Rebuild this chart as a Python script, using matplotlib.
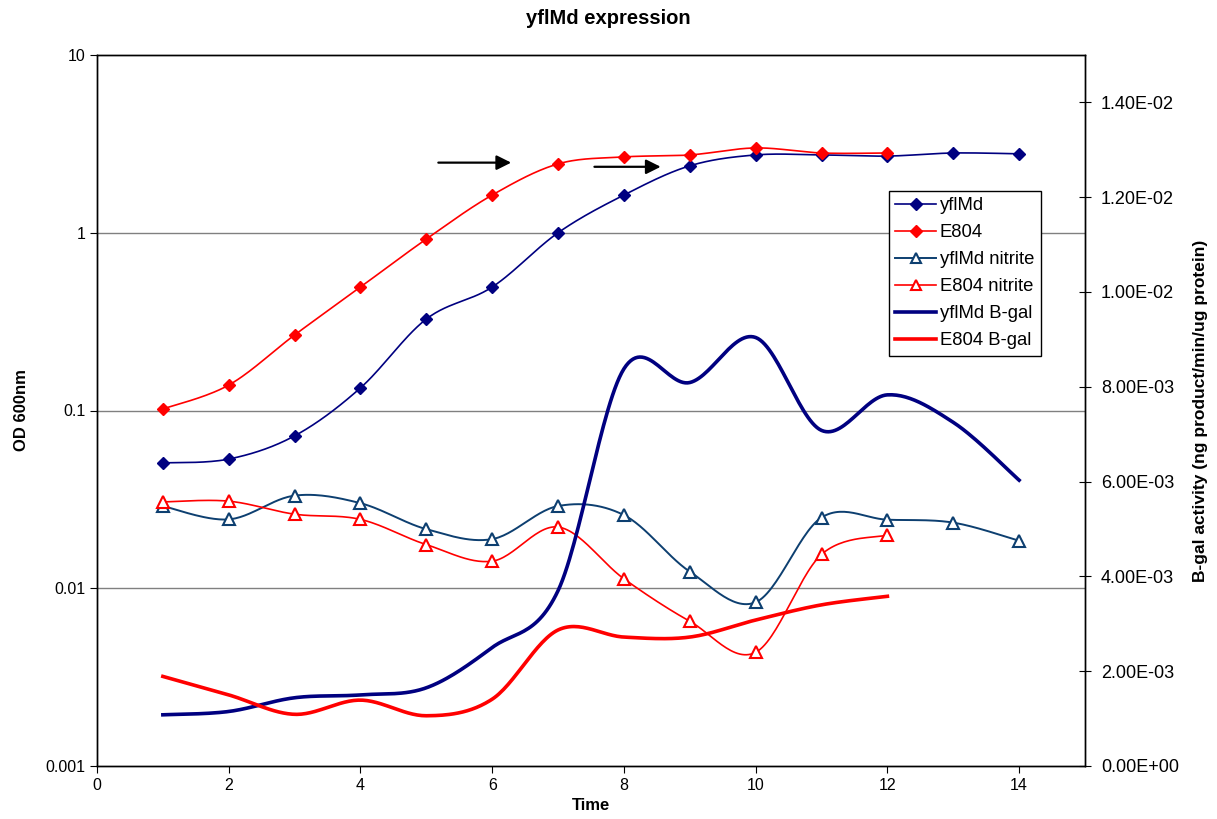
import numpy as np
import matplotlib
matplotlib.use("Agg")
import matplotlib.pyplot as plt
from matplotlib.lines import Line2D

plt.rcParams['font.family'] = ['Liberation Sans', 'DejaVu Sans']

time = [1, 2, 3, 4, 5, 6, 7, 8, 9, 10, 11, 12, 13, 14]
time_e804 = [1, 2, 3, 4, 5, 6, 7, 8, 9, 10, 11, 12]

# OD 600nm (left, log axis)
yflmd_od = [0.0507, 0.0533, 0.072, 0.134, 0.327, 0.495, 1.0, 1.63, 2.38, 2.74, 2.74, 2.70, 2.81, 2.78]
e804_od = [0.102, 0.139, 0.266, 0.495, 0.922, 1.63, 2.44, 2.67, 2.74, 3.0, 2.81, 2.81]
yflmd_nitrite = [0.029, 0.0244, 0.0332, 0.0301, 0.0215, 0.0189, 0.029, 0.0258, 0.0124, 0.00834,
                 0.025, 0.0243, 0.0234, 0.0185]
e804_nitrite = [0.0306, 0.0309, 0.0261, 0.0244, 0.0176, 0.0142, 0.0221, 0.0113, 0.00652, 0.00436,
                0.0155, 0.0199]

# B-gal activity (right, linear axis)
yflmd_bgal = [0.00108, 0.00115, 0.00144, 0.0015, 0.00165, 0.0025, 0.0037, 0.00838, 0.00809, 0.00904,
              0.00708, 0.00783, 0.00725, 0.00603]
e804_bgal = [0.00189, 0.0015, 0.00109, 0.00139, 0.00106, 0.00141, 0.00287, 0.00272, 0.00272, 0.00308,
             0.0034, 0.00358]

od_ticks = [0.001, 0.01, 0.1, 1, 10]
od_tick_labels = ['0.001', '0.01', '0.1', '1', '10']
bgal_ticks = [0, 0.002, 0.004, 0.006, 0.008, 0.01, 0.012, 0.014]


def smooth(x, y, log=False, n=30):
    # bezier curve through the points, like Excel's "smoothed line"
    x = np.asarray(x, float)
    y = np.asarray(y, float)
    if log:
        y = np.log10(y)
    px = np.concatenate([[x[0]], x, [x[-1]]])
    py = np.concatenate([[y[0]], y, [y[-1]]])
    xs, ys = [], []
    t = np.linspace(0, 1, n)
    for i in range(1, len(px) - 2):
        p0x, p1x, p2x, p3x = px[i - 1], px[i], px[i + 1], px[i + 2]
        p0y, p1y, p2y, p3y = py[i - 1], py[i], py[i + 1], py[i + 2]
        c1x = p1x + (p2x - p0x) / 6
        c1y = p1y + (p2y - p0y) / 6
        c2x = p2x - (p3x - p1x) / 6
        c2y = p2y - (p3y - p1y) / 6
        bx = (1 - t) ** 3 * p1x + 3 * (1 - t) ** 2 * t * c1x + 3 * (1 - t) * t ** 2 * c2x + t ** 3 * p2x
        by = (1 - t) ** 3 * p1y + 3 * (1 - t) ** 2 * t * c1y + 3 * (1 - t) * t ** 2 * c2y + t ** 3 * p2y
        xs.append(bx)
        ys.append(by)
    xs = np.concatenate(xs)
    ys = np.concatenate(ys)
    if log:
        ys = 10 ** ys
    return xs, ys


navy = '#000080'
red = '#ff0000'
steel = '#0d3f70'

fig = plt.figure(figsize=(12.17, 8.19), dpi=100)
ax = fig.add_axes([97 / 1217, 1 - 766 / 819, (1085 - 97) / 1217, (766 - 55) / 819])
ax2 = ax.twinx()

ax.set_yscale('log')
ax.set_ylim(0.001, 10)
ax.set_xlim(0, 15)
ax2.set_ylim(0, 0.015)

ax.set_yticks(od_ticks)
ax.set_yticklabels(od_tick_labels)
ax.yaxis.set_minor_locator(matplotlib.ticker.NullLocator())
ax.set_xticks(range(0, 15, 2))
ax2.set_yticks(bgal_ticks)
ax2.set_yticklabels([f"{v:.2E}" for v in bgal_ticks])

for g in [0.01, 0.1, 1]:
    ax.axhline(g, color='#808080', lw=1.0, zorder=0)

# left axis series
sx, sy = smooth(time, yflmd_od, log=True)
ax.plot(sx, sy, color=navy, lw=1.2)
ax.plot(time, yflmd_od, color=navy, marker='D', ms=6.5, ls='none')
sx, sy = smooth(time_e804, e804_od, log=True)
ax.plot(sx, sy, color=red, lw=1.2)
ax.plot(time_e804, e804_od, color=red, marker='D', ms=6.5, ls='none')
sx, sy = smooth(time, yflmd_nitrite, log=True)
ax.plot(sx, sy, color=steel, lw=1.4)
ax.plot(time, yflmd_nitrite, color=steel, marker='^', ms=8, mfc='white', mec=steel, mew=1.5, ls='none')
sx, sy = smooth(time_e804, e804_nitrite, log=True)
ax.plot(sx, sy, color=red, lw=1.2)
ax.plot(time_e804, e804_nitrite, color=red, marker='^', ms=8, mfc='white', mec=red, mew=1.5, ls='none')

# right axis series
sx, sy = smooth(time, yflmd_bgal)
ax2.plot(sx, sy, color=navy, lw=2.6)
sx, sy = smooth(time_e804, e804_bgal)
ax2.plot(sx, sy, color=red, lw=2.6)

# arrows
ax.annotate('', xy=(6.33, 2.48), xytext=(5.14, 2.48),
            arrowprops=dict(arrowstyle='-|>', color='black', lw=1.6, mutation_scale=22))
ax.annotate('', xy=(8.6, 2.35), xytext=(7.51, 2.35),
            arrowprops=dict(arrowstyle='-|>', color='black', lw=1.6, mutation_scale=22))

handles = [
    Line2D([], [], color=navy, lw=1.2, marker='D', ms=6.5),
    Line2D([], [], color=red, lw=1.2, marker='D', ms=6.5),
    Line2D([], [], color=steel, lw=1.4, marker='^', ms=7, mfc='white', mec=steel, mew=1.5),
    Line2D([], [], color=red, lw=1.2, marker='^', ms=7, mfc='white', mec=red, mew=1.5),
    Line2D([], [], color=navy, lw=2.6),
    Line2D([], [], color=red, lw=2.6),
]
labels = ['yflMd', 'E804', 'yflMd nitrite', 'E804 nitrite', 'yflMd B-gal', 'E804 B-gal']
leg = ax2.legend(handles, labels, loc='upper left', bbox_to_anchor=(889 / 1217, 1 - 191 / 819),
                 bbox_transform=fig.transFigure, fontsize=13.3, frameon=True, fancybox=False,
                 framealpha=1, edgecolor='black', handlelength=2.2, handletextpad=0.2,
                 labelspacing=0.54, borderpad=0.35, borderaxespad=0)
leg.get_frame().set_linewidth(1.0)

for a in (ax, ax2):
    for s in a.spines.values():
        s.set_linewidth(1.0)
        s.set_color('black')

ax.tick_params(axis='both', labelsize=11.5, direction='out', length=5)
ax2.tick_params(axis='y', labelsize=13, direction='inout', length=9, pad=7)

ax.set_xlabel('Time', fontsize=12, fontweight='bold', labelpad=4)
ax.set_ylabel('OD 600nm', fontsize=12, fontweight='bold', labelpad=12)
ax2.set_ylabel('B-gal activity (ng product/min/ug protein)', fontsize=12.5, fontweight='bold', labelpad=10)
fig.text(0.5, 1 - 18 / 819, 'yflMd expression', ha='center', va='center', fontsize=14.5, fontweight='bold')

fig.savefig('out.png', dpi=100)
